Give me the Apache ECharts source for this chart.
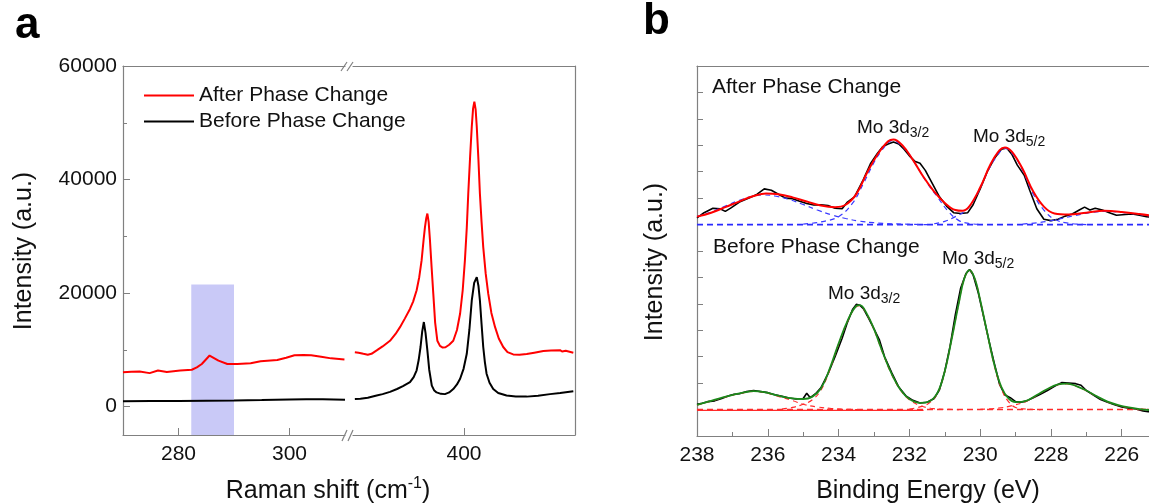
<!DOCTYPE html>
<html><head><meta charset="utf-8">
<script src="https://cdn.jsdelivr.net/npm/echarts@6/dist/echarts.min.js"></script>
<style>html,body{margin:0;padding:0;background:#fff}#c{width:1149px;height:504px}</style>
</head><body><div id="c"></div>
<script>
// ---------- Panel a: Raman ----------
const ramanLowRange = [270, 310];
const ramanHighRange = [340, 460];
const ramanLowTicks = [280, 300];
const ramanHighTicks = [400];
const ramanYTicks = [0, 20000, 40000, 60000];
const ramanYMinor = [10000, 30000, 50000];
const highlightBand = [282.3, 290.0, 21500];

const ramanAfterLow = [[270,6050],[271.5,6150],[273,6180],[274.8,5900],[276.3,6350],[277.9,6100],[280.3,6350],[282.4,6500],[283.3,6900],[284.2,7500],[285.6,9000],[287.2,8100],[288.8,7500],[290.6,7500],[293,7650],[294.8,8000],[297.8,8200],[299.4,8600],[300.9,9050],[302.5,9100],[303.9,9050],[305.7,8800],[307.5,8500],[309.9,8300]];
const ramanBeforeLow = [[270,950],[275,970],[280,1000],[285,1050],[290,1080],[295,1150],[300,1250],[303,1300],[306,1280],[310,1200]];
const ramanAfterHigh = [[341,9580],[343,9500],[345.6,9300],[348,9150],[350,9300],[352.8,9900],[356,10600],[360,11600],[363,12800],[365.4,14000],[368,15500],[370.8,17200],[372.5,18500],[374.4,20500],[375.8,22800],[377.1,25800],[378.2,29500],[378.9,31600],[379.6,33200],[380.2,34000],[380.9,32500],[381.6,29300],[382.5,24500],[383.4,19900],[384.4,14800],[385.6,11600],[387,10700],[388.5,10400],[390,10450],[392,10900],[394.2,11600],[396.2,13500],[397.9,16400],[399.3,20500],[400.5,25800],[401.5,31500],[402.3,37500],[403.3,44000],[404.2,49300],[404.9,52500],[405.6,53700],[406.3,52300],[406.9,49300],[407.8,43500],[408.6,37500],[409.5,32500],[410.4,28100],[411.7,23500],[413.1,19900],[414.8,16500],[416.8,14000],[418.8,12000],[421.2,10500],[423.5,9600],[426.6,9200],[430,9150],[433.9,9250],[438,9500],[442.9,9800],[447,9900],[451.9,9950],[453,9700],[455,9850],[459.1,9500]];
const ramanBeforeHigh = [[341,1350],[344,1400],[348,1550],[352.8,1950],[356,2200],[360,2600],[363.8,3100],[367,3600],[370.8,4300],[372.8,5200],[374.4,6400],[375.5,8200],[376.5,10500],[377.4,13200],[378.3,14900],[379.2,13000],[380.2,9900],[381.2,6500],[382.6,3700],[383.8,2900],[385.2,2500],[387.5,2250],[389.7,2200],[392,2500],[394.2,3100],[396.2,3900],[397.9,4900],[399.8,6700],[401.5,9300],[402.9,13500],[404.2,18700],[405.5,21800],[406.9,22800],[407.8,21300],[408.6,18700],[409.5,14500],[410.4,10500],[411.3,7800],[412.2,5800],[413.8,4200],[415.8,3100],[418.5,2400],[423,1950],[428,1800],[433.9,1760],[440,1900],[446.5,2200],[452,2400],[459.1,2700]];

// ---------- Panel b: XPS ----------
const xpsRange = [225.23, 238];
const xpsTicks = [226, 228, 230, 232, 234, 236, 238];
const xpsMinorTicks = [227, 229, 231, 233, 235, 237];
const xpsYRange = [0, 14];
const afterData = [[238.0,8.25],[237.8,8.45],[237.55,8.62],[237.35,8.6],[237.2,8.5],[237.05,8.62],[236.8,8.85],[236.5,9.02],[236.3,9.15],[236.1,9.35],[235.9,9.3],[235.7,9.15],[235.5,9.0],[235.3,8.98],[235.1,8.88],[234.9,8.8],[234.7,8.74],[234.5,8.75],[234.3,8.72],[234.1,8.62],[233.9,8.6],[233.75,8.85],[233.55,9.05],[233.3,9.7],[233.1,10.3],[232.9,10.7],[232.75,10.95],[232.6,11.05],[232.45,11.12],[232.3,11.05],[232.15,10.85],[232.0,10.6],[231.85,10.4],[231.7,10.32],[231.55,10.05],[231.35,9.55],[231.15,9.05],[230.95,8.7],[230.75,8.45],[230.55,8.42],[230.35,8.45],[230.2,8.75],[230.0,9.35],[229.8,10.0],[229.6,10.5],[229.4,10.85],[229.25,10.9],[229.1,10.65],[228.95,10.25],[228.75,9.85],[228.6,9.3],[228.4,8.6],[228.2,8.2],[228.0,8.15],[227.8,8.2],[227.6,8.32],[227.4,8.4],[227.2,8.55],[227.05,8.66],[226.9,8.55],[226.75,8.62],[226.55,8.55],[226.35,8.45],[226.15,8.35],[225.9,8.38],[225.7,8.4],[225.5,8.35],[225.3,8.3],[225.1,8.28]];
const afterFit = [[238.0,8.30],[237.6,8.45],[237.2,8.66],[236.8,8.88],[236.4,9.08],[236.05,9.18],[235.7,9.15],[235.3,9.03],[234.9,8.87],[234.5,8.72],[234.1,8.66],[233.8,8.75],[233.5,9.15],[233.2,9.95],[232.9,10.65],[232.6,11.15],[232.45,11.22],[232.2,11.0],[231.9,10.45],[231.6,9.8],[231.3,9.25],[231.0,8.82],[230.7,8.55],[230.5,8.52],[230.3,8.7],[230.0,9.4],[229.7,10.3],[229.45,10.82],[229.3,10.92],[229.1,10.75],[228.8,10.1],[228.5,9.25],[228.2,8.68],[227.9,8.42],[227.5,8.38],[227.0,8.45],[226.5,8.52],[226.0,8.48],[225.5,8.40],[225.0,8.30]];
const afterComp1 = [[238.0,8.30],[237.6,8.48],[237.2,8.70],[236.8,8.92],[236.4,9.08],[236.1,9.12],[235.8,9.08],[235.4,8.95],[235.0,8.76],[234.6,8.55],[234.2,8.37],[233.8,8.23],[233.4,8.13],[233.0,8.07],[232.5,8.03],[232.0,8.01],[231.5,8.0]];
const afterComp2 = [[235.0,8.02],[234.5,8.1],[234.0,8.3],[233.6,8.82],[233.3,9.55],[233.0,10.35],[232.8,10.77],[232.6,11.1],[232.5,11.18],[232.35,11.12],[232.1,10.83],[231.8,10.23],[231.5,9.58],[231.2,9.03],[230.9,8.5],[230.6,8.15],[230.3,8.04],[230.0,8.01]];
const afterComp3 = [[231.3,8.03],[231.0,8.12],[230.7,8.3],[230.4,8.55],[230.1,9.1],[229.8,9.97],[229.55,10.55],[229.3,10.88],[229.05,10.62],[228.8,10.05],[228.5,9.15],[228.2,8.55],[227.9,8.2],[227.5,8.05],[227.0,8.0]];
const afterComp4 = [[228.8,8.02],[228.3,8.08],[227.8,8.2],[227.3,8.35],[226.8,8.47],[226.4,8.5],[226.0,8.46],[225.5,8.38],[225.0,8.28]];
const afterBaseline = [[238,8.0],[225.0,8.0]];

const beforeData = [[238.0,1.2],[237.85,1.24],[237.7,1.3],[237.5,1.33],[237.3,1.42],[237.1,1.52],[236.95,1.58],[236.8,1.6],[236.6,1.68],[236.4,1.72],[236.2,1.68],[236.0,1.64],[235.8,1.56],[235.6,1.5],[235.4,1.44],[235.2,1.4],[235.0,1.42],[234.9,1.62],[234.8,1.45],[234.65,1.6],[234.5,1.82],[234.3,2.35],[234.1,3.0],[233.9,3.7],[233.75,4.3],[233.6,4.8],[233.5,4.98],[233.4,4.95],[233.3,4.82],[233.15,4.45],[233.0,4.05],[232.85,3.65],[232.7,3.0],[232.5,2.4],[232.3,1.85],[232.1,1.52],[231.9,1.35],[231.7,1.25],[231.5,1.28],[231.3,1.42],[231.15,1.75],[231.0,2.45],[230.85,3.4],[230.7,4.6],[230.55,5.6],[230.4,6.15],[230.3,6.3],[230.2,6.1],[230.05,5.4],[229.9,4.5],[229.75,3.6],[229.6,2.75],[229.45,1.95],[229.3,1.55],[229.15,1.45],[229.0,1.3],[228.85,1.28],[228.7,1.32],[228.5,1.45],[228.3,1.58],[228.1,1.72],[227.9,1.88],[227.7,2.02],[227.5,2.0],[227.3,1.98],[227.15,1.92],[227.0,1.72],[226.8,1.55],[226.6,1.38],[226.4,1.28],[226.2,1.18],[226.0,1.1],[225.8,1.05],[225.6,1.02],[225.4,0.95],[225.25,0.92],[225.1,0.9]];
const beforeFit = [[238.0,1.18],[237.6,1.33],[237.1,1.52],[236.7,1.64],[236.4,1.70],[236.1,1.66],[235.7,1.53],[235.3,1.42],[235.0,1.40],[234.75,1.48],[234.5,1.80],[234.25,2.55],[234.0,3.5],[233.75,4.35],[233.5,4.92],[233.4,4.95],[233.2,4.62],[233.0,4.05],[232.75,3.15],[232.5,2.35],[232.25,1.75],[232.0,1.4],[231.7,1.25],[231.45,1.3],[231.2,1.65],[231.0,2.45],[230.8,3.7],[230.6,5.05],[230.45,5.95],[230.3,6.28],[230.15,5.95],[230.0,5.15],[229.8,3.9],[229.6,2.7],[229.4,1.85],[229.2,1.42],[229.0,1.28],[228.7,1.33],[228.4,1.55],[228.1,1.78],[227.8,1.95],[227.55,1.98],[227.3,1.9],[227.0,1.72],[226.7,1.5],[226.4,1.3],[226.1,1.17],[225.8,1.08],[225.5,1.02],[225.2,0.98],[224.8,0.95]];
const beforeCompA = [[238.0,1.17],[237.6,1.32],[237.1,1.51],[236.7,1.63],[236.4,1.69],[236.1,1.65],[235.7,1.5],[235.3,1.34],[235.0,1.2],[234.6,1.1],[234.2,1.04],[233.8,1.01],[233.4,1.0]];
const beforeCompB = [[235.6,1.02],[235.3,1.08],[235.0,1.2],[234.75,1.36],[234.5,1.73],[234.25,2.5],[234.0,3.47],[233.75,4.32],[233.5,4.9],[233.4,4.93],[233.2,4.6],[233.0,4.03],[232.75,3.13],[232.5,2.33],[232.25,1.73],[232.0,1.37],[231.7,1.15],[231.4,1.05],[231.0,1.01],[230.6,1.0]];
const beforeCompC = [[232.0,1.02],[231.7,1.1],[231.45,1.24],[231.2,1.63],[231.0,2.44],[230.8,3.7],[230.6,5.05],[230.45,5.95],[230.3,6.27],[230.15,5.94],[230.0,5.14],[229.8,3.88],[229.6,2.66],[229.4,1.78],[229.2,1.3],[229.0,1.08],[228.7,1.02],[228.3,1.0]];
const beforeCompD = [[230.0,1.01],[229.5,1.05],[229.1,1.15],[228.7,1.31],[228.4,1.54],[228.1,1.77],[227.8,1.94],[227.55,1.97],[227.3,1.89],[227.0,1.71],[226.7,1.49],[226.4,1.29],[226.1,1.16],[225.8,1.07],[225.5,1.02],[225.0,1.0]];
const beforeBaseline = [[238,1.0],[225.0,1.0]];
const beforeBaselineSolid = [[238,0.97],[231.6,0.97]];

const FONT = "'Liberation Sans', Arial, sans-serif";
const AX = '#808080';
const TXT = '#111';

const chart = echarts.init(document.getElementById('c'), null, {renderer: 'canvas'});

function frameAxis(grid, range, pos, extra) {
  return Object.assign({
    type: 'value', gridIndex: grid, min: range[0], max: range[1], position: pos,
    axisLine: {show: true, onZero: false, lineStyle: {color: AX, width: 1.2}},
    axisTick: {show: false}, axisLabel: {show: false}, splitLine: {show: false}
  }, extra || {});
}

const labelStyle = {color: TXT, fontSize: 21, fontFamily: FONT, formatter: (v) => String(v)};
const dashBlue = {color: '#3a3aff', width: 1.2, type: [5, 4]};
const dashRed = {color: '#ff2a2a', width: 1.2, type: [5, 4]};

function xps(name, data, lineStyle, z, smooth) {
  return {name: name, type: 'line', xAxisIndex: 4, yAxisIndex: 3, data: data, symbol: 'none',
    smooth: smooth || false, z: z, lineStyle: lineStyle};
}

const option = {
  animation: false,
  backgroundColor: '#fff',
  textStyle: {fontFamily: FONT},
  grid: [
    {left: 123, top: 66, width: 222, height: 369},
    {left: 353, top: 66, width: 222, height: 369},
    {left: 697, top: 66, right: 0, height: 370}
  ],
  legend: {
    data: ['After Phase Change', 'Before Phase Change'],
    orient: 'vertical', left: 139, top: 80, itemGap: 5, itemWidth: 50, itemHeight: 2, icon: 'rect',
    textStyle: {fontSize: 21, color: TXT, fontFamily: FONT}, selectedMode: false
  },
  xAxis: [
    frameAxis(0, ramanLowRange, 'bottom', {
      axisTick: {show: true, inside: true, length: 7, customValues: ramanLowTicks, lineStyle: {color: AX}},
      axisLabel: Object.assign({show: true, margin: 9, customValues: ramanLowTicks}, labelStyle)
    }),
    frameAxis(1, ramanHighRange, 'bottom', {
      axisTick: {show: true, inside: true, length: 7, customValues: ramanHighTicks, lineStyle: {color: AX}},
      axisLabel: Object.assign({show: true, margin: 9, customValues: ramanHighTicks}, labelStyle)
    }),
    frameAxis(0, ramanLowRange, 'top'),
    frameAxis(1, ramanHighRange, 'top'),
    frameAxis(2, xpsRange, 'bottom', {
      inverse: true,
      axisTick: {show: true, inside: true, length: 7, customValues: xpsTicks, lineStyle: {color: AX}},
      axisLabel: Object.assign({show: true, margin: 9, customValues: xpsTicks}, labelStyle)
    }),
    frameAxis(2, xpsRange, 'bottom', {
      inverse: true, axisLine: {show: false},
      axisTick: {show: true, inside: true, length: 4, customValues: xpsMinorTicks, lineStyle: {color: AX}}
    }),
    frameAxis(2, xpsRange, 'top', {inverse: true})
  ],
  yAxis: [
    frameAxis(0, [-5000, 60000], 'left', {
      axisTick: {show: true, inside: true, length: 7, customValues: ramanYTicks, lineStyle: {color: AX}},
      axisLabel: Object.assign({show: true, margin: 6, customValues: ramanYTicks}, labelStyle)
    }),
    frameAxis(0, [-5000, 60000], 'left', {
      axisLine: {show: false},
      axisTick: {show: true, inside: true, length: 4, customValues: ramanYMinor, lineStyle: {color: AX}}
    }),
    frameAxis(1, [-5000, 60000], 'right'),
    frameAxis(2, xpsYRange, 'left', {
      interval: 1,
      axisTick: {show: true, inside: true, length: 6, lineStyle: {color: AX}}
    })
  ],
  series: [
    {type: 'line', xAxisIndex: 0, yAxisIndex: 0, data: [], z: 1, silent: true,
     markArea: {silent: true, itemStyle: {color: '#c9c9f7'},
       data: [[{coord: [highlightBand[0], -5000]}, {coord: [highlightBand[1], highlightBand[2]]}]]}},
    {name: 'After Phase Change', type: 'line', xAxisIndex: 0, yAxisIndex: 0, data: ramanAfterLow, symbol: 'none', z: 3, lineStyle: {color: '#ff0000', width: 2}, itemStyle: {color: '#ff0000'}},
    {name: 'Before Phase Change', type: 'line', xAxisIndex: 0, yAxisIndex: 0, data: ramanBeforeLow, symbol: 'none', z: 3, lineStyle: {color: '#000', width: 2}, itemStyle: {color: '#000'}},
    {name: 'After Phase Change', type: 'line', xAxisIndex: 1, yAxisIndex: 2, data: ramanAfterHigh, symbol: 'none', z: 3, lineStyle: {color: '#ff0000', width: 2}, itemStyle: {color: '#ff0000'}},
    {name: 'Before Phase Change', type: 'line', xAxisIndex: 1, yAxisIndex: 2, data: ramanBeforeHigh, symbol: 'none', z: 3, lineStyle: {color: '#000', width: 2}, itemStyle: {color: '#000'}},

    // XPS after
    xps('xa', afterData, {color: '#000', width: 1.6}, 2),
    xps('xab', afterBaseline, {color: '#2b2bff', width: 1.8, type: [6, 4]}, 3),
    xps('xa1', afterComp1, dashBlue, 3, 0.4),
    xps('xa2', afterComp2, dashBlue, 3, 0.4),
    xps('xa3', afterComp3, dashBlue, 3, 0.4),
    xps('xa4', afterComp4, dashBlue, 3, 0.4),
    xps('xaf', afterFit, {color: '#ff0000', width: 2}, 4, 0.4),

    // XPS before
    xps('xb', beforeData, {color: '#000', width: 1.6}, 2),
    xps('xbs', beforeBaselineSolid, {color: '#ff2a2a', width: 1.2}, 3),
    xps('xbb', beforeBaseline, {color: '#ff2a2a', width: 1.5, type: [6, 4]}, 3),
    xps('xbA', beforeCompA, dashRed, 3, 0.4),
    xps('xbB', beforeCompB, dashRed, 3, 0.4),
    xps('xbC', beforeCompC, dashRed, 3, 0.4),
    xps('xbD', beforeCompD, dashRed, 3, 0.4),
    xps('xbf', beforeFit, {color: '#1b8a1b', width: 1.8}, 4, 0.4)
  ],
  graphic: [
    {type: 'text', left: 15, top: 4, style: {text: 'a', font: "bold 44px 'Liberation Sans Narrow', 'Liberation Sans', Arial", fill: '#000'}},
    {type: 'text', left: 643, top: 0, style: {text: 'b', font: "bold 44px 'Liberation Sans Narrow', 'Liberation Sans', Arial", fill: '#000'}},
    // break marks
    {type: 'line', shape: {x1: 341, y1: 71, x2: 347, y2: 62}, style: {stroke: AX, lineWidth: 1.2}},
    {type: 'line', shape: {x1: 347, y1: 71, x2: 353, y2: 62}, style: {stroke: AX, lineWidth: 1.2}},
    {type: 'line', shape: {x1: 342, y1: 441, x2: 347, y2: 430}, style: {stroke: AX, lineWidth: 1.2}},
    {type: 'line', shape: {x1: 348, y1: 441, x2: 353, y2: 430}, style: {stroke: AX, lineWidth: 1.2}},
    // axis titles
    {type: 'text', x: 328, y: 491, style: {text: '{n|Raman shift (cm}{s|-1}{n|)}', textAlign: 'center', textVerticalAlign: 'middle',
      rich: {n: {fontSize: 25, fontFamily: FONT, fill: TXT, lineHeight: 30}, s: {fontSize: 16, fontFamily: FONT, fill: TXT, verticalAlign: 'top', lineHeight: 14}}}},
    {type: 'text', x: 928, y: 491, style: {text: 'Binding Energy (eV)', textAlign: 'center', textVerticalAlign: 'middle', font: "25px 'Liberation Sans', Arial", fill: TXT}},
    {type: 'text', x: 24, y: 251, rotation: Math.PI / 2, style: {text: 'Intensity (a.u.)', textAlign: 'center', textVerticalAlign: 'middle', font: "25px 'Liberation Sans', Arial", fill: TXT}},
    {type: 'text', x: 655, y: 262, rotation: Math.PI / 2, style: {text: 'Intensity (a.u.)', textAlign: 'center', textVerticalAlign: 'middle', font: "25px 'Liberation Sans', Arial", fill: TXT}},
    // panel b annotations
    {type: 'text', x: 712, y: 87, style: {text: 'After Phase Change', textAlign: 'left', textVerticalAlign: 'middle', font: "21px 'Liberation Sans', Arial", fill: TXT}},
    {type: 'text', x: 713, y: 247, style: {text: 'Before Phase Change', textAlign: 'left', textVerticalAlign: 'middle', font: "21px 'Liberation Sans', Arial", fill: TXT}},
    {type: 'text', x: 857, y: 128, style: {text: '{m|Mo 3d}{b|3/2}', textAlign: 'left', textVerticalAlign: 'middle',
      rich: {m: {fontSize: 19, fontFamily: FONT, fill: TXT, lineHeight: 24}, b: {fontSize: 14, fontFamily: FONT, fill: TXT, verticalAlign: 'bottom', lineHeight: 12}}}},
    {type: 'text', x: 973, y: 137, style: {text: '{m|Mo 3d}{b|5/2}', textAlign: 'left', textVerticalAlign: 'middle',
      rich: {m: {fontSize: 19, fontFamily: FONT, fill: TXT, lineHeight: 24}, b: {fontSize: 14, fontFamily: FONT, fill: TXT, verticalAlign: 'bottom', lineHeight: 12}}}},
    {type: 'text', x: 942, y: 259, style: {text: '{m|Mo 3d}{b|5/2}', textAlign: 'left', textVerticalAlign: 'middle',
      rich: {m: {fontSize: 19, fontFamily: FONT, fill: TXT, lineHeight: 24}, b: {fontSize: 14, fontFamily: FONT, fill: TXT, verticalAlign: 'bottom', lineHeight: 12}}}},
    {type: 'text', x: 828, y: 294, style: {text: '{m|Mo 3d}{b|3/2}', textAlign: 'left', textVerticalAlign: 'middle',
      rich: {m: {fontSize: 19, fontFamily: FONT, fill: TXT, lineHeight: 24}, b: {fontSize: 14, fontFamily: FONT, fill: TXT, verticalAlign: 'bottom', lineHeight: 12}}}}
  ]
};
chart.setOption(option);
</script></body></html>
